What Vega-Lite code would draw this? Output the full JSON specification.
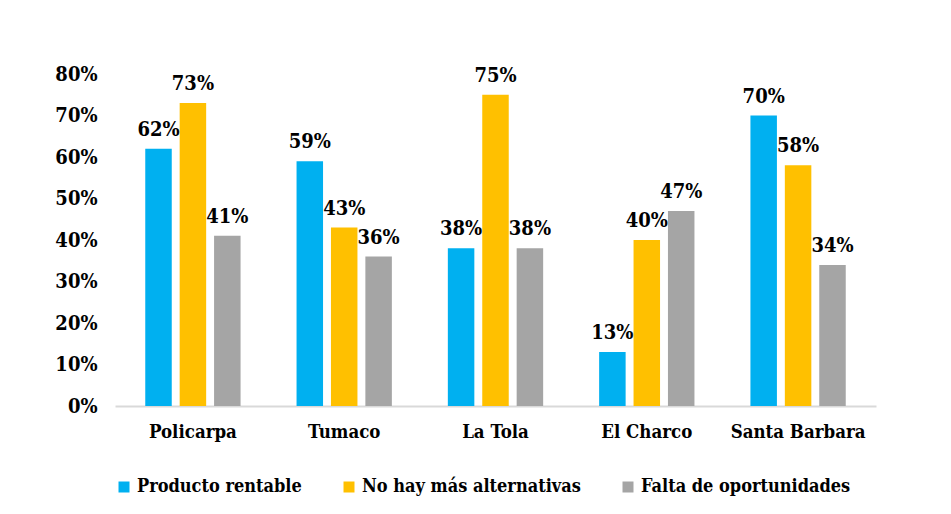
{
  "$schema": "https://vega.github.io/schema/vega-lite/v6.json",
  "width": 761,
  "height": 332,
  "autosize": {"type": "none"},
  "padding": {"left": 115, "top": 74, "right": 75, "bottom": 108},
  "background": "white",
  "data": {
    "values": [
      {"lugar": "Policarpa", "serie": "Producto rentable", "valor": 0.62},
      {"lugar": "Policarpa", "serie": "No hay más alternativas", "valor": 0.73},
      {"lugar": "Policarpa", "serie": "Falta de oportunidades", "valor": 0.41},
      {"lugar": "Tumaco", "serie": "Producto rentable", "valor": 0.59},
      {"lugar": "Tumaco", "serie": "No hay más alternativas", "valor": 0.43},
      {"lugar": "Tumaco", "serie": "Falta de oportunidades", "valor": 0.36},
      {"lugar": "La Tola", "serie": "Producto rentable", "valor": 0.38},
      {"lugar": "La Tola", "serie": "No hay más alternativas", "valor": 0.75},
      {"lugar": "La Tola", "serie": "Falta de oportunidades", "valor": 0.38},
      {"lugar": "El Charco", "serie": "Producto rentable", "valor": 0.13},
      {"lugar": "El Charco", "serie": "No hay más alternativas", "valor": 0.40},
      {"lugar": "El Charco", "serie": "Falta de oportunidades", "valor": 0.47},
      {"lugar": "Santa Barbara", "serie": "Producto rentable", "valor": 0.70},
      {"lugar": "Santa Barbara", "serie": "No hay más alternativas", "valor": 0.58},
      {"lugar": "Santa Barbara", "serie": "Falta de oportunidades", "valor": 0.34}
    ]
  },
  "encoding": {
    "x": {
      "field": "lugar", "type": "nominal",
      "sort": ["Policarpa", "Tumaco", "La Tola", "El Charco", "Santa Barbara"],
      "scale": {"paddingInner": 0.37, "paddingOuter": 0.2},
      "axis": {"title": null, "labelAngle": 0, "ticks": false, "domainColor": "#D9D9D9", "domainWidth": 2, "labelPadding": 16, "labelFontSize": 18.5, "labelFont": "DejaVu Serif Condensed", "labelFontWeight": "bold", "labelColor": "#000000"}
    },
    "xOffset": {
      "field": "serie", "type": "nominal",
      "sort": ["Producto rentable", "No hay más alternativas", "Falta de oportunidades"],
      "scale": {"paddingInner": 0.23}
    },
    "y": {
      "field": "valor", "type": "quantitative",
      "scale": {"domain": [0, 0.8], "nice": false},
      "axis": {"title": null, "format": ".0%", "values": [0, 0.1, 0.2, 0.3, 0.4, 0.5, 0.6, 0.7, 0.8], "grid": false, "ticks": false, "domain": false, "labelPadding": 18, "labelFontSize": 20, "labelFont": "DejaVu Serif Condensed", "labelFontWeight": "bold", "labelColor": "#000000"}
    }
  },
  "layer": [
    {
      "mark": {"type": "bar"},
      "encoding": {
        "color": {
          "field": "serie", "type": "nominal",
          "sort": ["Producto rentable", "No hay más alternativas", "Falta de oportunidades"],
          "scale": {"domain": ["Producto rentable", "No hay más alternativas", "Falta de oportunidades"], "range": ["#00B0F0", "#FFC000", "#A5A5A5"]},
          "legend": {"title": null, "orient": "bottom", "direction": "horizontal", "symbolType": "square", "symbolSize": 121, "symbolStrokeWidth": 0, "symbolOpacity": 1, "labelFontSize": 18, "labelFont": "DejaVu Serif Condensed", "labelFontWeight": "bold", "labelColor": "#000000", "labelLimit": 400, "columnPadding": 38, "labelOffset": 4, "offset": 37}
        }
      }
    },
    {
      "mark": {"type": "text", "baseline": "bottom", "dy": -9, "font": "DejaVu Serif Condensed", "fontWeight": "bold", "fontSize": 20, "color": "#000000"},
      "encoding": {
        "text": {"field": "valor", "type": "quantitative", "format": ".0%"}
      }
    }
  ],
  "config": {"view": {"stroke": null}, "font": "DejaVu Serif Condensed"}
}
